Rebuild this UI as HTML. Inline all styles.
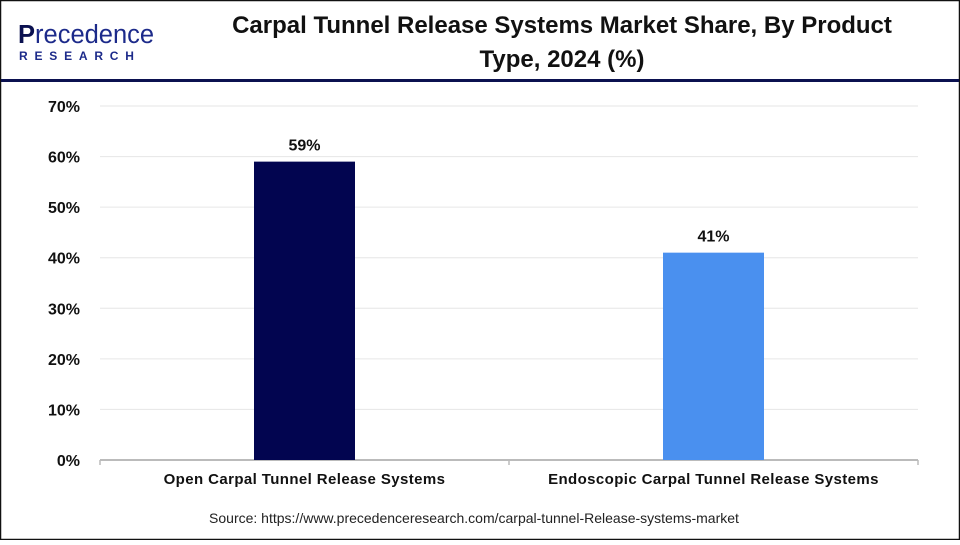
<!DOCTYPE html>
<html><head><meta charset="utf-8"><style>
html,body{margin:0;padding:0;background:#fff}
body{width:960px;height:540px;overflow:hidden;font-family:"Liberation Sans",sans-serif}
</style></head><body>
<svg width="960" height="540" xmlns="http://www.w3.org/2000/svg">
<rect x="0.5" y="0.5" width="959" height="539" fill="#fff" stroke="#111" stroke-width="1.5"/>
<g>
<text x="18" y="43" font-size="25.5" fill="#0b1150" font-family="Liberation Sans,sans-serif"><tspan font-weight="bold">P</tspan><tspan fill="#1c2a8a">recedence</tspan></text>
<text x="19" y="60" font-size="12" font-weight="bold" fill="#1c2a8a" letter-spacing="6.8">RESEARCH</text>
</g>
<text x="562" y="33" text-anchor="middle" font-size="24" font-weight="bold" fill="#111">Carpal Tunnel Release Systems Market Share, By Product</text>
<text x="562" y="67" text-anchor="middle" font-size="24" font-weight="bold" fill="#111">Type, 2024 (%)</text>
<rect x="1" y="79" width="958" height="3" fill="#0b1150"/>
<g id="grid"></g><g id="bars"></g>
<text x="474" y="523" text-anchor="middle" font-size="14" fill="#222">Source: https://www.precedenceresearch.com/carpal-tunnel-Release-systems-market</text>
</svg>
<script>
const categories=["Open Carpal Tunnel Release Systems","Endoscopic Carpal Tunnel Release Systems"];
const values=[59,41];
const labels=["59%","41%"];
const ticks=[0,10,20,30,40,50,60,70];
const colors=["#020550","#4a90ef"];
const NS="http://www.w3.org/2000/svg";
const x0=100,x1=918,y0=460,yTop=106,maxV=70;
const y=v=>y0-(v/maxV)*(y0-yTop);
const band=(x1-x0)/categories.length;
const cx=i=>x0+band*(i+0.5);
const bw=101;
function mk(t,a,p,txt){const e=document.createElementNS(NS,t);for(const k in a)e.setAttribute(k,a[k]);if(txt!=null)e.textContent=txt;p.appendChild(e);return e;}
const g=document.getElementById('grid'),b=document.getElementById('bars');
ticks.forEach(t=>{
 if(t>0){const l=mk('line',{x1:x0,x2:x1,y1:y(t),y2:y(t),stroke:'#e6e6e6','stroke-width':1},g);
 
 }
 const tx=mk('text',{x:80,y:y(t)+6,'text-anchor':'end','font-size':16,'font-weight':'bold',fill:'#111'},g,t+'%');
 
 
});
const ax=mk('line',{x1:x0,x2:x1,y1:y0,y2:y0,stroke:'#bbb','stroke-width':2},g);


[x0,x0+band,x1].forEach((xx,i)=>{const tk=mk('line',{x1:xx,x2:xx,y1:y0,y2:y0+5,stroke:'#bbb','stroke-width':1.5},g);
 
 });
categories.forEach((c,i)=>{
 const r=mk('rect',{x:cx(i)-bw/2,y:y(values[i]),width:bw,height:y0-y(values[i]),fill:colors[i]},b);
 
 
 const v=mk('text',{x:cx(i),y:y(values[i])-11,'text-anchor':'middle','font-size':16,'font-weight':'bold',fill:'#111'},b,labels[i]);
 
 
 const cl=mk('text',{x:cx(i),y:484,'text-anchor':'middle','font-size':15,'font-weight':'bold','letter-spacing':0.4,fill:'#111'},b,c);
 
 
});
</script>
</body></html>
